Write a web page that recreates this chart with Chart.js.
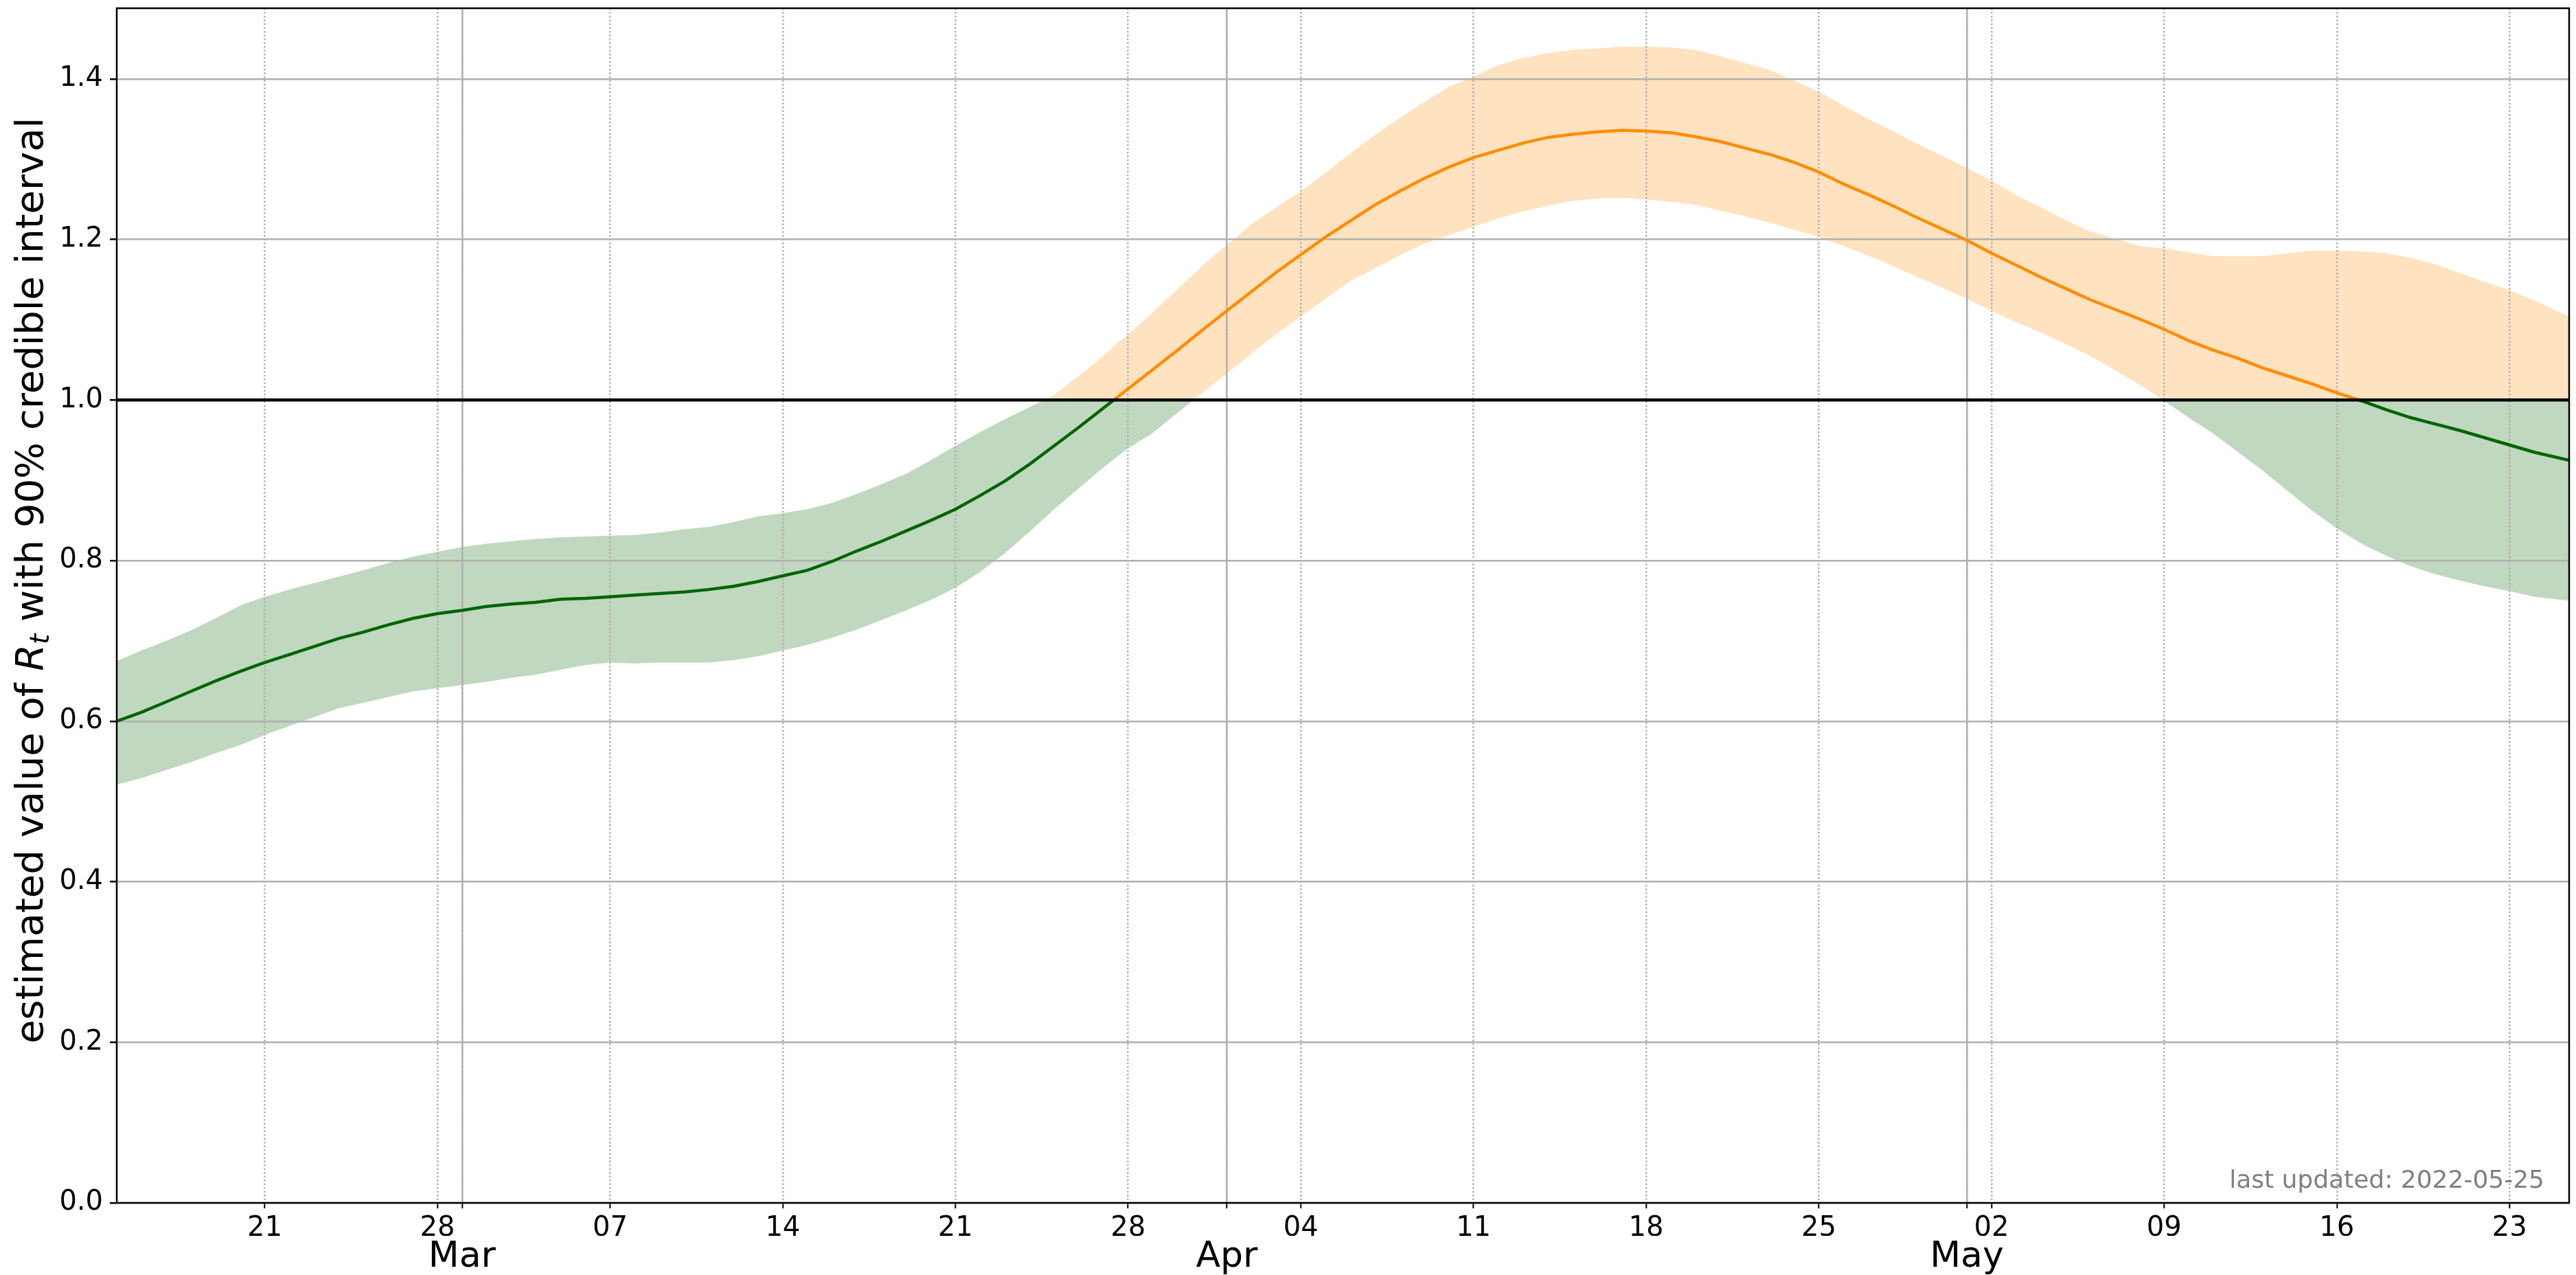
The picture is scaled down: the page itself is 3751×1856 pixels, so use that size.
<!DOCTYPE html>
<html>
<head>
<meta charset="utf-8">
<title>Estimated Rt</title>
<script src="https://cdn.jsdelivr.net/npm/chart.js@4.4.1/dist/chart.umd.min.js"></script>
<style>
  html, body { margin: 0; padding: 0; background: #fff; }
  canvas { display: block; }
</style>
</head>
<body>
<canvas id="rtChart" width="3751" height="1856"></canvas>
<script>
// one value per day from 2022-02-15, the last one is the update stamp
const startDate = '2022-02-15';
const lastStamp = '2022-05-25T10:00:00Z';

const median = [
  0.600, 0.611, 0.624, 0.637, 0.650, 0.662, 0.673, 0.683, 0.693, 0.703,
  0.711, 0.720, 0.728, 0.734, 0.738, 0.743, 0.746, 0.748, 0.752, 0.753,
  0.755, 0.757, 0.759, 0.761, 0.764, 0.768, 0.774, 0.781, 0.788, 0.799,
  0.812, 0.824, 0.837, 0.850, 0.864, 0.881, 0.899, 0.920, 0.943, 0.966,
  0.990, 1.014, 1.038, 1.062, 1.087, 1.111, 1.135, 1.159, 1.181, 1.203,
  1.223, 1.243, 1.260, 1.276, 1.290, 1.302, 1.311, 1.320, 1.327, 1.331,
  1.334, 1.336, 1.335, 1.333, 1.328, 1.322, 1.314, 1.306, 1.296, 1.284,
  1.269, 1.256, 1.242, 1.227, 1.213, 1.199, 1.183, 1.168, 1.153, 1.139,
  1.125, 1.113, 1.101, 1.088, 1.074, 1.062, 1.052, 1.040, 1.030, 1.020,
  1.009, 0.999, 0.988, 0.978, 0.970, 0.962, 0.953, 0.944, 0.935, 0.925
];

const upper = [
  0.675, 0.688, 0.700, 0.713, 0.728, 0.744, 0.755, 0.764, 0.772, 0.780,
  0.788, 0.797, 0.805, 0.811, 0.817, 0.821, 0.824, 0.827, 0.829, 0.830,
  0.831, 0.832, 0.835, 0.839, 0.842, 0.848, 0.855, 0.859, 0.864, 0.872,
  0.883, 0.895, 0.908, 0.925, 0.943, 0.960, 0.976, 0.991, 1.006, 1.030,
  1.055, 1.082, 1.109, 1.138, 1.167, 1.193, 1.219, 1.240, 1.260, 1.283,
  1.307, 1.330, 1.351, 1.371, 1.390, 1.403, 1.417, 1.426, 1.432, 1.436,
  1.438, 1.440, 1.440, 1.439, 1.436, 1.428, 1.420, 1.411, 1.398, 1.384,
  1.367, 1.350, 1.335, 1.319, 1.304, 1.289, 1.273, 1.255, 1.240, 1.224,
  1.210, 1.201, 1.192, 1.189, 1.184, 1.179, 1.179, 1.179, 1.183, 1.186,
  1.186, 1.185, 1.183, 1.177, 1.169, 1.158, 1.147, 1.137, 1.124, 1.104
];

const lower = [
  0.521, 0.529, 0.539, 0.549, 0.560, 0.570, 0.583, 0.594, 0.605, 0.616,
  0.623, 0.630, 0.637, 0.641, 0.645, 0.649, 0.654, 0.658, 0.664, 0.670,
  0.673, 0.672, 0.673, 0.673, 0.673, 0.676, 0.681, 0.688, 0.695, 0.704,
  0.714, 0.726, 0.738, 0.751, 0.766, 0.786, 0.809, 0.836, 0.864, 0.890,
  0.916, 0.940, 0.959, 0.984, 1.009, 1.033, 1.058, 1.082, 1.104, 1.126,
  1.148, 1.164, 1.180, 1.195, 1.205, 1.216, 1.226, 1.235, 1.242, 1.248,
  1.251, 1.252, 1.250, 1.247, 1.243, 1.236, 1.229, 1.221, 1.212, 1.203,
  1.192, 1.180, 1.167, 1.153, 1.140, 1.126, 1.111, 1.097, 1.084, 1.070,
  1.055, 1.037, 1.019, 0.999, 0.978, 0.958, 0.935, 0.912, 0.887, 0.862,
  0.840, 0.821, 0.806, 0.793, 0.783, 0.775, 0.768, 0.762, 0.755, 0.750
];

const weekTicks = [
  '2022-02-21', '2022-02-28', '2022-03-07', '2022-03-14', '2022-03-21',
  '2022-03-28', '2022-04-04', '2022-04-11', '2022-04-18', '2022-04-25',
  '2022-05-02', '2022-05-09', '2022-05-16', '2022-05-23'
];
const monthTicks = ['2022-03-01', '2022-04-01', '2022-05-01'];
const monthLabels = ['Mar', 'Apr', 'May'];
const yTicks = [0.0, 0.2, 0.4, 0.6, 0.8, 1.0, 1.2, 1.4];
const threshold = 1.0;
const lastUpdated = 'last updated: 2022-05-25';

const FONT = 'DejaVu Sans';
const yMax = 1.488;

const dayOf = s => (Date.parse(s) - Date.parse(startDate)) / 86400000;
const lastDay = dayOf(lastStamp);
const xOf = i => (i === median.length - 1 ? lastDay : i);
const toPoints = arr => arr.map((v, i) => ({ x: xOf(i), y: v }));

const weekDays = weekTicks.map(dayOf);
const monthDays = monthTicks.map(dayOf);

// colour above / below the threshold, split with a hard gradient stop
function splitColor(context, above, below) {
  const chart = context.chart;
  const area = chart.chartArea;
  if (!area || !chart.scales.y) return below;
  const y1 = chart.scales.y.getPixelForValue(threshold);
  let s = (y1 - area.top) / (area.bottom - area.top);
  s = Math.min(Math.max(s, 0), 1);
  const g = chart.ctx.createLinearGradient(0, area.top, 0, area.bottom);
  g.addColorStop(0, above);
  g.addColorStop(s, above);
  g.addColorStop(s, below);
  g.addColorStop(1, below);
  return g;
}

const extras = {
  id: 'extras',
  afterDraw(chart) {
    const ctx = chart.ctx;
    const a = chart.chartArea;
    ctx.save();
    // frame
    ctx.strokeStyle = '#000';
    ctx.lineWidth = 2.5;
    ctx.strokeRect(a.left, a.top, a.right - a.left, a.bottom - a.top);

    // last updated note
    ctx.fillStyle = '#808080';
    ctx.font = '36px "' + FONT + '"';
    ctx.textAlign = 'right';
    ctx.textBaseline = 'alphabetic';
    ctx.fillText(lastUpdated, a.right - 36, a.bottom - 22);

    // y axis title with italic R and subscript t
    const parts = [
      { t: 'estimated value of ', f: '56px "' + FONT + '"', dy: 0 },
      { t: 'R', f: 'italic 56px "' + FONT + '"', dy: 0 },
      { t: 't', f: 'italic 39px "' + FONT + '"', dy: 9 },
      { t: ' with 90% credible interval', f: '56px "' + FONT + '"', dy: 0 }
    ];
    let total = 0;
    parts.forEach(p => { ctx.font = p.f; p.w = ctx.measureText(p.t).width; total += p.w; });
    ctx.translate(62, 845);
    ctx.rotate(-Math.PI / 2);
    ctx.fillStyle = '#000';
    ctx.textAlign = 'left';
    let x = -total / 2;
    parts.forEach(p => {
      ctx.font = p.f;
      ctx.fillText(p.t, x, p.dy);
      x += p.w;
    });
    ctx.restore();
  }
};

new Chart(document.getElementById('rtChart'), {
  type: 'line',
  data: {
    datasets: [
      {
        label: 'threshold',
        data: [{ x: 0, y: threshold }, { x: lastDay, y: threshold }],
        borderColor: '#000',
        borderWidth: 4.5,
        pointRadius: 0,
        fill: false,
        order: 0
      },
      {
        label: 'median',
        data: toPoints(median),
        borderColor: ctx => splitColor(ctx, '#ff8c00', '#006400'),
        borderWidth: 4.5,
        pointRadius: 0,
        fill: false,
        order: 1
      },
      {
        label: 'upper',
        data: toPoints(upper),
        borderWidth: 0,
        pointRadius: 0,
        backgroundColor: ctx => splitColor(ctx, 'rgba(255,140,0,0.25)', 'rgba(0,100,0,0.25)'),
        fill: '+1',
        order: 2
      },
      {
        label: 'lower',
        data: toPoints(lower),
        borderWidth: 0,
        pointRadius: 0,
        fill: false,
        order: 3
      }
    ]
  },
  options: {
    responsive: false,
    devicePixelRatio: 1,
    animation: false,
    events: [],
    layout: { padding: { left: 0, top: 12, right: 10, bottom: 0 } },
    plugins: {
      legend: { display: false },
      tooltip: { enabled: false },
      filler: { drawTime: 'beforeDraw' }
    },
    scales: {
      x: {
        type: 'linear',
        position: 'bottom',
        weight: 0,
        min: 0,
        max: lastDay,
        afterBuildTicks: scale => {
          scale.ticks = weekDays.concat(monthDays).sort((a, b) => a - b).map(v => ({ value: v }));
        },
        afterFit: scale => {
          scale.height = 48;
          scale.paddingLeft = 0;
          scale.paddingRight = 0;
        },
        ticks: {
          autoSkip: false,
          maxRotation: 0,
          padding: 6,
          color: '#000',
          font: { family: FONT, size: 40 },
          callback: value => {
            const i = weekDays.indexOf(value);
            return i >= 0 ? weekTicks[i].slice(8, 10) : '';
          }
        },
        grid: {
          color: '#b0b0b0',
          lineWidth: 2.5,
          tickColor: '#000',
          tickLength: 8,
          tickWidth: 2
        },
        border: { display: false, dash: [2.5, 3] }
      },
      xm: {
        type: 'linear',
        position: 'bottom',
        weight: 1,
        min: 0,
        max: lastDay,
        afterBuildTicks: scale => {
          scale.ticks = monthDays.map(v => ({ value: v }));
        },
        afterFit: scale => {
          scale.height = 57;
          scale.paddingLeft = 0;
          scale.paddingRight = 0;
        },
        ticks: {
          autoSkip: false,
          maxRotation: 0,
          padding: 0,
          color: '#000',
          font: { family: FONT, size: 52 },
          callback: value => monthLabels[monthDays.indexOf(value)]
        },
        grid: {
          color: '#b0b0b0',
          lineWidth: 2.5,
          drawTicks: false
        },
        border: { display: false }
      },
      y: {
        type: 'linear',
        min: 0,
        max: yMax,
        afterBuildTicks: scale => {
          scale.ticks = yTicks.map(v => ({ value: v }));
        },
        afterFit: scale => {
          scale.width = 170;
          scale.paddingTop = 0;
          scale.paddingBottom = 0;
        },
        ticks: {
          padding: 10,
          color: '#000',
          font: { family: FONT, size: 40 },
          callback: value => value.toFixed(1)
        },
        grid: {
          color: '#b0b0b0',
          lineWidth: 2.5,
          tickColor: '#000',
          tickLength: 10,
          tickWidth: 2.5
        },
        border: { display: false }
      }
    }
  },
  plugins: [extras]
});
</script>
</body>
</html>
